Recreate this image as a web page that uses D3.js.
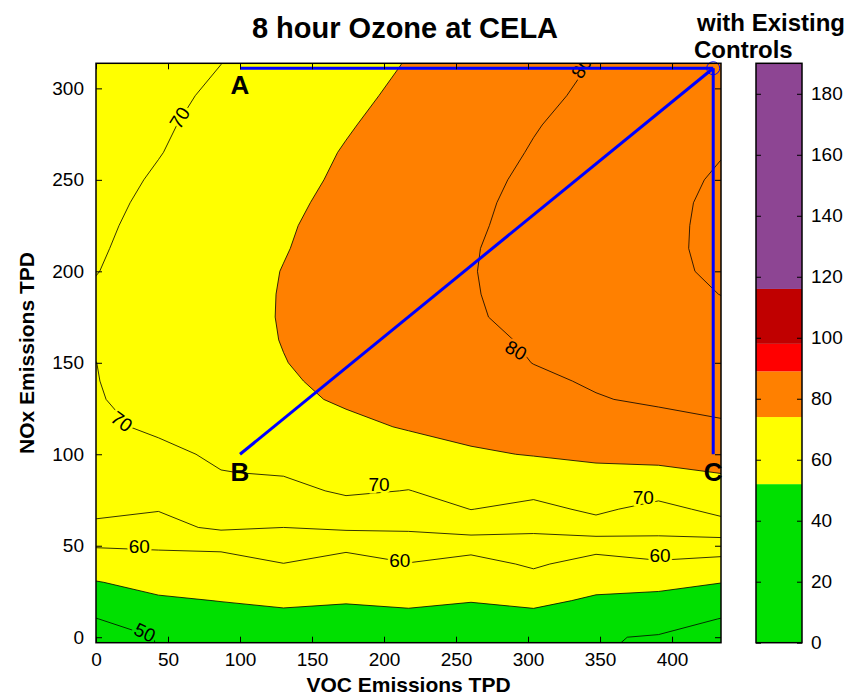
<!DOCTYPE html>
<html><head><meta charset="utf-8">
<script src="https://cdn.jsdelivr.net/npm/d3@7"></script>
<style>
body{margin:0;background:#fff;}
text{font-family:"Liberation Sans",Arial,Helvetica,sans-serif;fill:#000;}
</style></head><body>
<svg id="chart" width="850" height="696"></svg>
<script>
// ---------------- data ----------------
const vocGrid = [0, 43.4, 86.8, 130.2, 173.6, 217, 260.4, 303.8, 347.2, 390.6, 434];
const noxGrid = [0, 10, 20, 30, 40, 50, 60, 70, 80, 90, 100, 115, 130, 140, 150, 162.5, 175, 187.5,
                 200, 212.5, 225, 237.5, 250, 265, 280, 296, 313];
// 8-hour ozone (ppb), one row per NOx level, one column per VOC level
const ozone = [
  [47.5, 50.2, 51.8, 51.8, 51.5, 51.5, 51.0, 50.8, 50.3, 49.7, 47.3],
  [49.9, 52.3, 53.3, 53.8, 53.6, 53.6, 53.0, 53.5, 52.2, 51.8, 49.9],
  [52.3, 54.4, 55.1, 55.8, 55.3, 56.0, 55.2, 56.1, 54.3, 53.8, 52.5],
  [54.8, 56.4, 56.9, 57.8, 57.1, 58.0, 57.0, 58.3, 56.5, 56.2, 55.1],
  [57.5, 58.4, 59.2, 59.9, 58.6, 59.8, 58.5, 60.6, 58.3, 59.2, 58.3],
  [60.3, 60.5, 60.4, 62.4, 60.8, 62.8, 61.5, 62.8, 61.5, 63.1, 62.5],
  [64.2, 63.6, 65.8, 65.0, 65.8, 65.6, 67.5, 66.1, 68.3, 66.6, 68.1],
  [65.9, 65.2, 66.9, 66.9, 68.3, 67.7, 70.07, 68.8, 70.8, 68.6, 71.25],
  [67.0, 66.7, 68.4, 68.8, 70.6, 69.9, 71.5, 71.1, 72.5, 71.7, 73.2],
  [67.8, 67.9, 69.9, 70.3, 71.7, 71.5, 72.95, 73.2, 74.2, 74.2, 75.1],
  [68.5, 69.1, 70.6, 71.7, 72.7, 73.2, 74.5, 75.2, 75.74, 76.2, 76.9],
  [69.3, 70.6, 71.8, 73.1, 74.1, 75.3, 76.2, 77.0, 77.8, 78.7, 79.6],
  [69.75, 71.3, 72.8, 74.1, 75.5, 76.55, 77.64, 78.7, 79.8, 80.5, 80.9],
  [69.9, 71.49, 73.04, 74.59, 75.87, 77.05, 78.24, 79.42, 80.35, 81.03, 81.7],
  [69.98, 71.6, 73.2, 74.9, 76.2, 77.4, 78.7, 80.05, 80.8, 81.6, 82.4],
  [70.4, 72.0, 73.56, 75.12, 76.47, 77.83, 79.18, 80.39, 81.39, 82.4, 83.4],
  [70.6, 72.1, 73.7, 75.2, 76.8, 78.2, 79.65, 80.9, 82.0, 83.1, 84.2],
  [70.4, 72.0, 73.6, 75.19, 76.72, 78.25, 79.78, 81.15, 82.5, 83.84, 85.05],
  [69.9, 71.6, 73.4, 75.1, 76.7, 78.3, 79.85, 81.3, 82.8, 84.3, 85.5],
  [69.6, 71.43, 73.12, 74.82, 76.48, 78.12, 79.77, 81.29, 82.8, 84.3, 85.75],
  [69.3, 71.2, 72.9, 74.6, 76.3, 77.9, 79.5, 81.2, 82.7, 84.2, 85.8],
  [69.0, 70.83, 72.55, 74.27, 75.97, 77.65, 79.33, 80.95, 82.53, 84.11, 85.7],
  [68.7, 70.4, 72.2, 73.9, 75.6, 77.3, 79.0, 80.7, 82.3, 83.9, 85.4],
  [68.4, 69.86, 71.63, 73.45, 75.24, 76.91, 78.58, 80.23, 81.77, 83.31, 84.85],
  [68.1, 69.5, 71.2, 72.9, 74.7, 76.4, 78.05, 79.8, 81.24, 82.7, 84.2],
  [67.8, 69.13, 70.61, 72.36, 74.1, 75.81, 77.49, 79.17, 80.73, 82.16, 83.6],
  [67.5, 68.8, 70.0, 71.7, 73.5, 75.2, 76.9, 78.6, 80.2, 81.6, 83.0]
];
const fillLevels = [55, 75];
const lineLevels = [50, 55, 60, 65, 70, 75, 80, 85];
const xTicks = [0, 50, 100, 150, 200, 250, 300, 350, 400];
const yTicks = [0, 50, 100, 150, 200, 250, 300];
// colour bar
const cbBreaks = [0, 52, 74, 89, 98, 116, 190];
const cbTicks = [0, 20, 40, 60, 80, 100, 120, 140, 160, 180];
// control paths (VOC, NOx)
const pointNames = ["A", "B", "C"];
const pointVOC = [100, 100, 428.6];
const pointNOx = [311, 100, 100];
const baseVOC = 428.6, baseNOx = 311;
// contour labels: level, VOC, NOx, angle
const labelLevel = [70, 70, 70, 70, 80, 80, 60, 60, 60, 50];
const labelVOC   = [58, 18, 196.5, 380, 291.7, 337, 30, 211, 391.7, 34];
const labelNOx   = [284, 118, 83.6, 76.5, 157, 311.5, 49.8, 42, 44.8, 2.7];
const labelAngle = [-58, 37, 0, 0, 30, -57, 0, 0, 0, 25];

// ---------------- drawing ----------------
const GREEN = "#00e000", YELLOW = "#ffff00", ORANGE = "#ff8000";
const cbColors = [GREEN, YELLOW, ORANGE, "#ff0000", "#c00000", "#8d4593"];
const fillColor = d3.scaleThreshold().domain(fillLevels).range([GREEN, YELLOW, ORANGE]);

const svg = d3.select("#chart");
const P = {left: 96, right: 721, top: 63.3, bottom: 642.7};
const x = d3.scaleLinear().domain([0, 434]).range([P.left, P.right]);
const y = d3.scaleLinear().domain([-3, 313.7]).range([P.bottom, P.top]);

svg.append("defs").append("clipPath").attr("id", "plotclip")
  .append("rect").attr("x", P.left).attr("y", P.top)
  .attr("width", P.right - P.left).attr("height", P.bottom - P.top);

const g = svg.append("g").attr("clip-path", "url(#plotclip)");
g.append("rect").attr("x", P.left).attr("y", P.top)
  .attr("width", P.right - P.left).attr("height", P.bottom - P.top).attr("fill", GREEN);

const nx = vocGrid.length, ny = noxGrid.length;
const values = [];
for (let j = 0; j < ny; j++) for (let i = 0; i < nx; i++) values.push(ozone[j][i]);

const ix = d3.scaleLinear()
  .domain([0, ...vocGrid.map((_, i) => i + 0.5), nx])
  .range([vocGrid[0] - 15, ...vocGrid, vocGrid[nx - 1] + 15]);
const iy = d3.scaleLinear()
  .domain([0, ...noxGrid.map((_, i) => i + 0.5), ny])
  .range([noxGrid[0] - 15, ...noxGrid, noxGrid[ny - 1] + 15]);
const proj = d3.geoTransform({point(px, py) { this.stream.point(x(ix(px)), y(iy(py))); }});
const path = d3.geoPath(proj);

const fills = d3.contours().size([nx, ny]).thresholds(fillLevels)(values);
g.selectAll("path.fill").data(fills).join("path").attr("class", "fill")
  .attr("d", path).attr("fill", d => fillColor(d.value + 0.01)).attr("stroke", "none");

const lines = d3.contours().size([nx, ny]).thresholds(lineLevels)(values);
g.selectAll("path.line").data(lines).join("path").attr("class", "line")
  .attr("d", path).attr("fill", "none").attr("stroke", "#000").attr("stroke-width", 0.8)
  .attr("stroke-linejoin", "round");

// contour labels
labelLevel.forEach((v, k) => {
  g.append("text")
    .attr("transform", `translate(${x(labelVOC[k])},${y(labelNOx[k])}) rotate(${labelAngle[k]})`)
    .attr("text-anchor", "middle").attr("dy", "0.36em")
    .attr("font-size", 19)
    .attr("stroke", fillColor(v + 0.01)).attr("stroke-width", 5).attr("paint-order", "stroke")
    .text(v);
});

// blue control lines
const blue = svg.append("g").attr("clip-path", "url(#plotclip)");
pointNames.forEach((n, k) => {
  blue.append("line")
    .attr("x1", x(pointVOC[k])).attr("y1", y(pointNOx[k]))
    .attr("x2", x(baseVOC)).attr("y2", y(baseNOx))
    .attr("stroke", "#0000ff").attr("stroke-width", 3);
});
svg.append("circle").attr("cx", x(baseVOC)).attr("cy", y(baseNOx)).attr("r", 6.5)
  .attr("fill", "none").attr("stroke", "#0000ff").attr("stroke-width", 1);

pointNames.forEach((n, k) => {
  svg.append("text").attr("x", x(pointVOC[k])).attr("y", y(pointNOx[k]) + (k === 0 ? 26 : 27))
    .attr("text-anchor", "middle").attr("font-weight", "bold").attr("font-size", 26).text(n);
});

// axes
const axG = svg.append("g");
axG.append("g").attr("transform", `translate(0,${P.bottom})`)
  .call(d3.axisBottom(x).tickValues(xTicks).tickSize(-6).tickPadding(10).tickSizeOuter(0));
axG.append("g").attr("transform", `translate(0,${P.top})`)
  .call(d3.axisTop(x).tickValues(xTicks).tickSize(-6).tickFormat("").tickSizeOuter(0));
axG.append("g").attr("transform", `translate(${P.left},0)`)
  .call(d3.axisLeft(y).tickValues(yTicks).tickSize(-6).tickPadding(12).tickSizeOuter(0));
axG.append("g").attr("transform", `translate(${P.right},0)`)
  .call(d3.axisRight(y).tickValues(yTicks).tickSize(-6).tickFormat("").tickSizeOuter(0));
axG.selectAll(".domain").remove();
axG.selectAll("line").attr("stroke", "#000").attr("stroke-width", 1);
axG.selectAll("text").attr("font-size", 19).attr("font-family", null).style("fill", "#000");
axG.append("rect").attr("x", P.left).attr("y", P.top)
  .attr("width", P.right - P.left).attr("height", P.bottom - P.top)
  .attr("fill", "none").attr("stroke", "#000").attr("stroke-width", 1.5);

// titles
svg.append("text").attr("x", 405).attr("y", 38).attr("text-anchor", "middle")
  .attr("font-weight", "bold").attr("font-size", 29).text("8 hour Ozone at CELA");
svg.append("text").attr("x", (P.left + P.right) / 2).attr("y", 692).attr("text-anchor", "middle")
  .attr("font-weight", "bold").attr("font-size", 21).text("VOC Emissions TPD");
svg.append("text").attr("transform", `translate(34,${(P.top + P.bottom) / 2}) rotate(-90)`)
  .attr("text-anchor", "middle").attr("font-weight", "bold").attr("font-size", 21).text("NOx Emissions TPD");

// colour bar
const CB = {left: 756, right: 802};
const cy = d3.scaleLinear().domain([0, 190]).range([P.bottom, P.top]);
const cbg = svg.append("g");
cbColors.forEach((c, k) => {
  cbg.append("rect").attr("x", CB.left).attr("width", CB.right - CB.left)
    .attr("y", cy(cbBreaks[k + 1])).attr("height", cy(cbBreaks[k]) - cy(cbBreaks[k + 1]))
    .attr("fill", c);
});
cbg.append("g").attr("transform", `translate(${CB.right},0)`)
  .call(d3.axisRight(cy).tickValues(cbTicks).tickSize(-5).tickPadding(9).tickSizeOuter(0));
cbg.append("g").attr("transform", `translate(${CB.left},0)`)
  .call(d3.axisLeft(cy).tickValues(cbTicks).tickSize(-5).tickFormat("").tickSizeOuter(0));
cbg.selectAll(".domain").remove();
cbg.selectAll("line").attr("stroke", "#000");
cbg.selectAll("text").attr("font-size", 19).attr("font-family", null).style("fill", "#000");
cbg.append("rect").attr("x", CB.left).attr("y", P.top).attr("width", CB.right - CB.left)
  .attr("height", P.bottom - P.top).attr("fill", "none").attr("stroke", "#000").attr("stroke-width", 1.5);
svg.append("text").attr("x", 697).attr("y", 31).attr("font-weight", "bold").attr("font-size", 24).text("with Existing");
svg.append("text").attr("x", 694).attr("y", 58).attr("font-weight", "bold").attr("font-size", 24).text("Controls");
</script>
</body></html>
